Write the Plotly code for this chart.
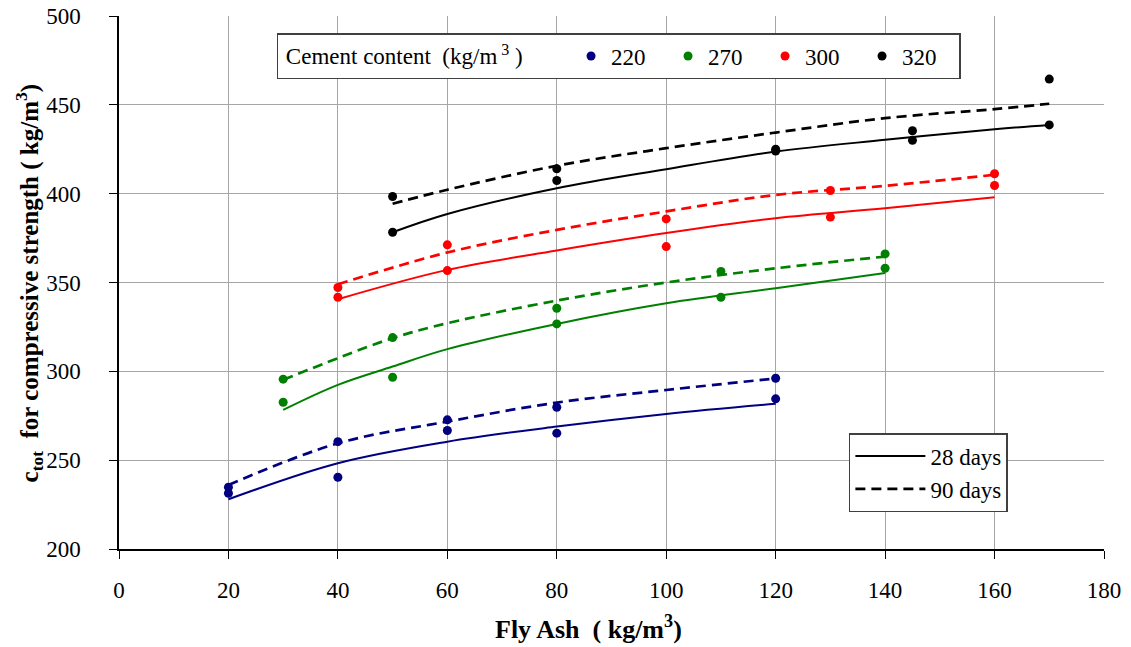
import plotly.graph_objects as go

# ---- measured points (two values per fly-ash dose: lower ~28 d, higher ~90 d)
fa_220 = [20, 40, 60, 80, 120]
pts_220_a = [231.4, 240.4, 266.7, 265.2, 284.5]
pts_220_b = [234.8, 260.4, 272.7, 279.8, 296.1]

fa_270 = [30, 50, 80, 110, 140]
pts_270_a = [282.6, 296.7, 326.7, 341.7, 358.0]
pts_270_b = [295.6, 319.0, 335.5, 356.2, 366.1]

fa_300 = [40, 60, 100, 130, 160]
pts_300_a = [341.7, 356.7, 370.2, 386.8, 404.6]
pts_300_b = [347.2, 371.2, 385.8, 401.8, 411.2]

fa_320 = [50, 80, 120, 145, 170]
pts_320_a = [378.3, 407.4, 424.0, 430.0, 438.7]
pts_320_b = [398.4, 414.0, 425.0, 435.4, 464.5]

# ---- fitted curves
cx_220 = [20, 40, 60, 80, 100, 120]
c28_220 = [228.0, 248.3, 260.4, 268.9, 276.0, 281.7]
c90_220 = [236.0, 259.5, 271.7, 282.4, 289.5, 296.0]

cx_270 = [30, 40, 50, 60, 80, 100, 120, 140]
c28_270 = [278.3, 292.4, 302.7, 312.5, 326.7, 338.3, 346.8, 355.3]
c90_270 = [295.2, 307.4, 318.7, 327.1, 339.8, 350.0, 358.0, 364.6]

cx_300 = [40, 60, 80, 100, 120, 140, 160]
c28_300 = [340.6, 357.1, 368.0, 377.8, 386.2, 391.8, 398.0]
c90_300 = [349.0, 366.9, 379.6, 390.0, 399.3, 404.4, 410.6]

cx_320 = [50, 60, 80, 100, 120, 140, 160, 170]
c28_320 = [378.3, 388.6, 403.1, 413.8, 423.7, 430.3, 436.3, 438.7]
c90_320 = [394.3, 402.2, 415.7, 425.6, 434.4, 442.5, 447.6, 450.6]

cement_labels = ["220", "270", "300", "320"]
colors = ["#000080", "#008000", "#FF0000", "#000000"]

x_title = "<b>Fly Ash  ( kg/m<sup>3</sup>)</b>"
y_title = "<b>c<sub>tot</sub>  for compressive strength ( kg/m<sup>3</sup>)</b>"

groups = [
    (fa_220, pts_220_a, pts_220_b, cx_220, c28_220, c90_220),
    (fa_270, pts_270_a, pts_270_b, cx_270, c28_270, c90_270),
    (fa_300, pts_300_a, pts_300_b, cx_300, c28_300, c90_300),
    (fa_320, pts_320_a, pts_320_b, cx_320, c28_320, c90_320),
]

FONT = "Liberation Serif, Times New Roman, serif"

fig = go.Figure()
for i, (fa, pa, pb, cx, c28, c90) in enumerate(groups):
    col = colors[i]
    is_black = (i == 3)
    fig.add_trace(go.Scatter(
        x=cx, y=c28, mode="lines", line=dict(color=col, width=2, shape="spline"),
        name="28 days", legend="legend2", showlegend=is_black, hoverinfo="skip"))
    fig.add_trace(go.Scatter(
        x=cx, y=c90, mode="lines",
        line=dict(color=col, width=2.7, dash="10px,6px", shape="spline"),
        name="90 days", legend="legend2", showlegend=is_black, hoverinfo="skip"))

for i, (fa, pa, pb, cx, c28, c90) in enumerate(groups):
    col = colors[i]
    fig.add_trace(go.Scatter(
        x=fa + fa, y=pa + pb, mode="markers",
        marker=dict(color=col, size=9),
        name=cement_labels[i], legend="legend"))

fig.update_layout(
    width=1131, height=647,
    margin=dict(l=119, r=27, t=16, b=98),
    paper_bgcolor="white", plot_bgcolor="white",
    font=dict(family=FONT, size=23, color="black"),
    showlegend=True,
    legend=dict(
        orientation="h", x=0.160, y=0.968, xanchor="left", yanchor="top",
        title=dict(text="&nbsp;Cement content  (kg/m<sup> 3</sup> )&nbsp;&nbsp;&nbsp;&nbsp;&nbsp;&nbsp;&nbsp;",
                   side="left", font=dict(family=FONT, size=23)),
        font=dict(family=FONT, size=23),
        bgcolor="white", bordercolor="#404040", borderwidth=1.5,
        entrywidth=52, itemwidth=30, traceorder="normal",
    ),
    legend2=dict(
        orientation="v", x=0.741, y=0.2176, xanchor="left", yanchor="top",
        font=dict(family=FONT, size=23),
        bgcolor="white", bordercolor="#404040", borderwidth=1.5,
        itemwidth=70, traceorder="normal",
    ),
    xaxis=dict(
        range=[0, 180], dtick=20, tick0=0, automargin=False,
        showgrid=True, gridcolor="#A6A6A6", gridwidth=1,
        showline=True, linecolor="black", linewidth=1.5,
        ticks="outside", ticklen=8, tickcolor="black", ticklabelstandoff=12,
        ticklabeloverflow="allow",
        tickfont=dict(family=FONT, size=23), zeroline=False,
    ),
    yaxis=dict(
        range=[200, 500], dtick=50, automargin=False,
        showgrid=True, gridcolor="#A6A6A6", gridwidth=1,
        showline=True, linecolor="black", linewidth=1.5,
        ticks="outside", ticklen=8, tickcolor="black", ticklabelstandoff=24,
        ticklabeloverflow="allow",
        tickfont=dict(family=FONT, size=23), zeroline=False,
    ),
    annotations=[
        dict(text=x_title, xref="paper", yref="paper", x=0.477, y=-0.148,
             xanchor="center", yanchor="middle", showarrow=False,
             font=dict(family=FONT, size=26, color="black")),
        dict(text=y_title, xref="paper", yref="paper", x=-0.0914, y=0.5,
             xanchor="center", yanchor="middle", showarrow=False, textangle=-90,
             font=dict(family=FONT, size=25, color="black")),
    ],
)

fig.write_html("out.html", config={"displayModeBar": False},
               post_script="document.body.style.margin='0px';")
